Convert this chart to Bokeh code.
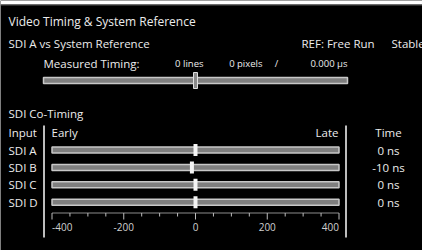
from bokeh.plotting import figure
from bokeh.models import Range1d, GlobalInlineStyleSheet
from bokeh.core.properties import value
from bokeh.embed import file_html
from bokeh.resources import INLINE

# ---------------- data ----------------
title = "Video Timing & System Reference"
section1 = "SDI A vs System Reference"
ref_label = "REF: Free Run"
ref_state = "Stable"
measured_label = "Measured Timing:"
measured_lines = 0
measured_pixels = 0
measured_us = 0.000
measured_scale = [-562, 562]          # lines

section2 = "SDI Co-Timing"
inputs = ["SDI A", "SDI B", "SDI C", "SDI D"]
offsets_ns = [0, -10, 0, 0]
scale_ns = [-400, 400]
major_ticks = [-400, -200, 0, 200, 400]
minor_ticks = [-350, -300, -250, -150, -100, -50, 50, 100, 150, 250, 300, 350]
header_input = "Input"
header_early = "Early"
header_late = "Late"
header_time = "Time"

# ---------------- layout ----------------
W, H = 422, 250
FONT = value("Open Sans")
TXT = "#ececec"


def mapped_range(a, b, pa, pb):
    k = (b - a) / (pb - pa)
    start = a - pa * k
    return Range1d(start, start + W * k)


p = figure(width=W, height=H, x_range=Range1d(0, W), y_range=Range1d(H, 0),
           output_backend="svg", toolbar_location=None, min_border=0,
           x_axis_location=None, y_axis_location=None,
           background_fill_color="black", border_fill_color="black",
           outline_line_color=None)
p.grid.visible = False
p.stylesheets = [GlobalInlineStyleSheet(css="body{margin:0;background:#fff;}")]
p.extra_x_ranges = {
    "ns": mapped_range(scale_ns[0], scale_ns[1], 51.5, 338.5),
    "lines": mapped_range(measured_scale[0], measured_scale[1], 43, 347),
}

# top frame edge
p.quad(left=[0], right=[W], top=[0], bottom=[4], fill_color="white", line_color=None)
p.segment(x0=[0], y0=[4.5], x1=[W], y1=[4.5], line_color="#5a5a5a", line_width=1)


def txt(x, y, s, size, align="left", color=TXT, rng="default"):
    texts = s if isinstance(s, list) else [s]
    n = len(texts)
    xs = x if isinstance(x, list) else [x] * n
    ys = y if isinstance(y, list) else [y] * n
    p.text(x=xs, y=ys, text=texts,
           text_font=FONT, text_font_size=size, text_color=color,
           text_align=align, text_baseline="middle", x_range_name=rng)


txt(8, 21, title, "12px")
txt(8, 43, section1, "11.5px")
txt(301, 43, ref_label, "11.5px")
txt(391, 43, ref_state, "11.5px")
txt(43, 63, measured_label, "11.5px")
txt(203, 63, f"{measured_lines} lines", "9.5px", align="right")
txt(262, 63, f"{measured_pixels} pixels", "9.5px", align="right")
txt(276, 63, "/", "9.5px", align="center")
txt(347, 63, f"{measured_us:.3f} µs", "9.5px", align="right")

# measured timing bar
p.hbar(y=[80], left=[measured_scale[0]], right=[measured_scale[1]], height=6,
       fill_color="#7f7f7f", line_color="#c8c8c8", line_width=1.5, x_range_name="lines")
p.rect(x=[measured_lines], y=[80], width=4, width_units="screen", height=16,
       fill_color="#8a8a8a", line_color="#e0e0e0", line_width=1, x_range_name="lines")

# co-timing section
txt(8, 113, section2, "11.5px")
txt(8, 132, header_input, "11.5px")
txt(51, 132, header_early, "11.5px")
txt(338, 132, header_late, "11.5px", align="right")
txt(388, 132, header_time, "11.5px", align="center")

p.segment(x0=[43.5, 345.5], y0=[125, 125], x1=[43.5, 345.5], y1=[237, 237],
          line_color="#bdbdbd", line_width=2)

row_y = [149.5 + i * 17.4 for i in range(len(inputs))]
txt(8, row_y, inputs, "11.5px")
p.hbar(y=row_y, left=scale_ns[0], right=scale_ns[1], height=6,
       fill_color="#7f7f7f", line_color="#c8c8c8", line_width=1.5, x_range_name="ns")
p.rect(x=offsets_ns, y=row_y, width=4, width_units="screen", height=12,
       fill_color="#f4f4f4", line_color=None, x_range_name="ns")
txt(388, row_y, [f"{v} ns" for v in offsets_ns], "11.5px", align="center")

# axis
ax_y = 212.5
p.segment(x0=[scale_ns[0]], y0=[ax_y], x1=[scale_ns[1]], y1=[ax_y],
          line_color="#8c8c8c", line_width=1, x_range_name="ns")
p.segment(x0=major_ticks, y0=[ax_y] * len(major_ticks), x1=major_ticks,
          y1=[ax_y + 6.5] * len(major_ticks), line_color="#bdbdbd", line_width=1,
          x_range_name="ns")
p.segment(x0=minor_ticks, y0=[ax_y] * len(minor_ticks), x1=minor_ticks,
          y1=[ax_y + 3.5] * len(minor_ticks), line_color="#bdbdbd", line_width=1,
          x_range_name="ns")
aligns = ["left" if t == min(major_ticks) else "right" if t == max(major_ticks) else "center"
          for t in major_ticks]
for t, a in zip(major_ticks, aligns):
    txt(t, 226.5, str(t), "10px", align=a, color="#d0d0d0", rng="ns")

open("out.html", "w").write(file_html(p, INLINE))
